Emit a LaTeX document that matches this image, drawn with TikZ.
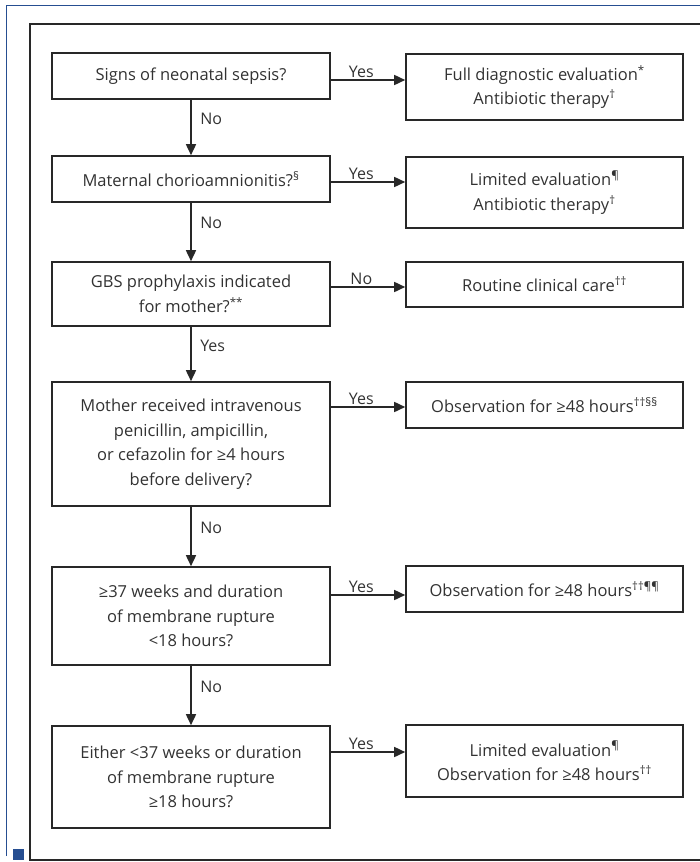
\documentclass[tikz,border=0pt]{standalone}
\usepackage{fontspec}
\setmainfont{Open Sans}
\usetikzlibrary{arrows.meta}

\definecolor{boxline}{RGB}{40,40,40}
\definecolor{txt}{RGB}{50,50,50}
\definecolor{frameblue}{RGB}{38,78,145}
\newcommand{\sups}[1]{\textsuperscript{#1}}

\begin{document}
\begin{tikzpicture}[x=1pt,y=-1pt,
	box/.style={rectangle, draw=boxline, line width=1.6pt, text=txt, align=center, inner sep=0pt, font=\fontsize{16.5}{24.5}\selectfont},
	lbox/.style={box, minimum width=278pt},
	rbox/.style={box, minimum width=277pt},
	arr/.style={line width=1.6pt, draw=boxline, -{Triangle[length=11pt,width=10pt]}},
	ans/.style={text=txt, font=\fontsize{16}{18}\selectfont, inner sep=1.5pt},
	]
	\useasboundingbox (0,0) rectangle (700,862);
	\draw[frameblue, line width=1.2pt] (6.5,856) -- (6.5,5.5) -- (702,5.5);
	\fill[frameblue] (13,849) rectangle (24,860);
	\draw[boxline, line width=2pt] (702,23.5) -- (30,23.5) -- (30,860) -- (702,860);

	% questions
	\node[lbox, minimum height=46pt] (sepsis) at (191,76) {Signs of neonatal sepsis?};
	\node[lbox, minimum height=46pt] (chorio) at (191,179) {Maternal chorioamnionitis?\sups{\S}};
	\node[lbox, minimum height=64pt] (gbs) at (191,294) {GBS prophylaxis indicated\\for mother?\sups{**}};
	\node[lbox, minimum height=124pt] (iv) at (191,444) {Mother received intravenous\\penicillin, ampicillin,\\or cefazolin for ≥4 hours\\before delivery?};
	\node[lbox, minimum height=98pt] (term) at (191,616) {≥37 weeks and duration\\of membrane rupture\\<18 hours?};
	\node[lbox, minimum height=102pt] (preterm) at (191,777) {Either <37 weeks or duration\\of membrane rupture\\≥18 hours?};

	% actions
	\node[rbox, minimum height=66pt] (fulleval) at (544.5,87) {Full diagnostic evaluation\sups{*}\\Antibiotic therapy\sups{†}};
	\node[rbox, minimum height=71pt] (limeval) at (544.5,192.5) {Limited evaluation\sups{¶}\\Antibiotic therapy\sups{†}};
	\node[rbox, minimum height=45pt] (routine) at (544.5,284.5) {Routine clinical care\sups{††}};
	\node[rbox, minimum height=46pt] (obsA) at (544.5,405) {Observation for ≥48 hours\sups{††\S\S}};
	\node[rbox, minimum height=46pt] (obsB) at (544.5,589) {Observation for ≥48 hours\sups{††¶¶}};
	\node[rbox, minimum height=72pt] (limobs) at (544.5,761) {Limited evaluation\sups{¶}\\Observation for ≥48 hours\sups{††}};

	\draw[arr] (sepsis) -- (chorio) node[ans, right, pos=0.35, xshift=7pt] {No};
	\draw[arr] (chorio) -- (gbs) node[ans, right, pos=0.35, xshift=7pt] {No};
	\draw[arr] (gbs) -- (iv) node[ans, right, pos=0.35, xshift=7pt] {Yes};
	\draw[arr] (iv) -- (term) node[ans, right, pos=0.35, xshift=7pt] {No};
	\draw[arr] (term) -- (preterm) node[ans, right, pos=0.35, xshift=7pt] {No};

	\draw[arr] (sepsis.east |- 0,80) -- (fulleval.west |- 0,80) node[ans, above, pos=0.41] {Yes};
	\draw[arr] (chorio.east |- 0,182) -- (limeval.west |- 0,182) node[ans, above, pos=0.41] {Yes};
	\draw[arr] (gbs.east |- 0,287) -- (routine.west |- 0,287) node[ans, above, pos=0.41] {No};
	\draw[arr] (iv.east |- 0,407) -- (obsA.west |- 0,407) node[ans, above, pos=0.41] {Yes};
	\draw[arr] (term.east |- 0,595) -- (obsB.west |- 0,595) node[ans, above, pos=0.41] {Yes};
	\draw[arr] (preterm.east |- 0,752) -- (limobs.west |- 0,752) node[ans, above, pos=0.41] {Yes};
\end{tikzpicture}
\end{document}
